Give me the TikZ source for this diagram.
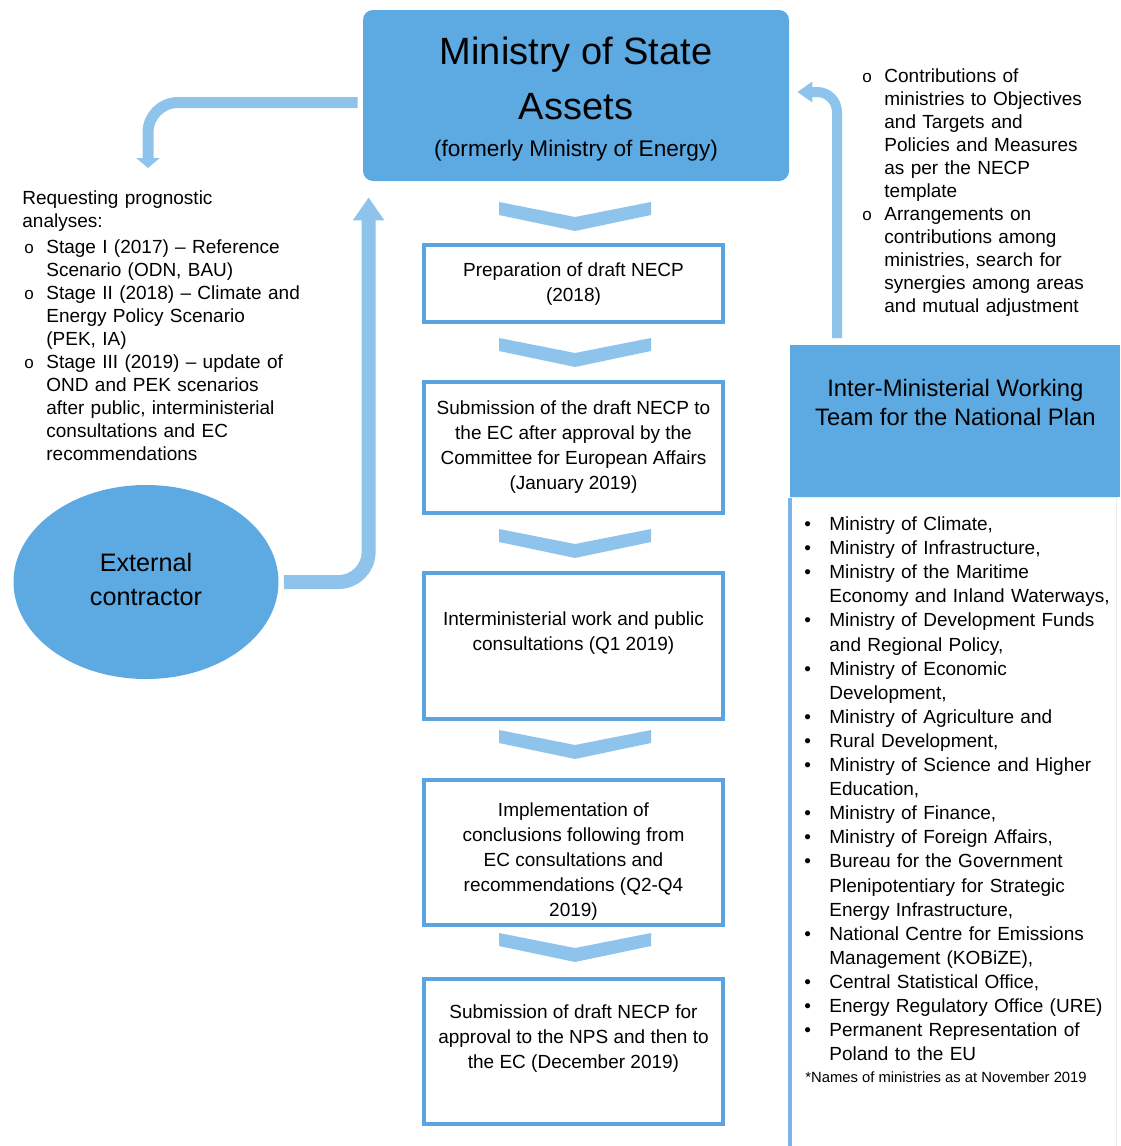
\documentclass[tikz,border=0pt]{standalone}
\usepackage{fontspec}
\setmainfont{Liberation Sans}
\usetikzlibrary{shapes.geometric,arrows.meta,positioning}
\definecolor{fillblue}{HTML}{5DA9E1}
\definecolor{arrowblue}{HTML}{8EC4EC}
\definecolor{lineblue}{HTML}{5CA4DF}

\newcommand{\ringitem}{\par\noindent\hangindent=12pt\hangafter=1\makebox[12pt][l]{\kern1pt\fontsize{8.5}{8.5}\selectfont o}}
\newcommand{\dotitem}{\par\noindent\hangindent=12.5pt\hangafter=1\makebox[12.5pt][l]{\textbullet}}

\tikzset{
  stepbox/.style={draw=lineblue, line width=2pt, minimum width=149.5pt, inner sep=0pt},
  steptext/.style={anchor=north, inner sep=0pt, align=center, font=\fontsize{9.5}{12.5}\selectfont},
  chev/.style={fill=arrowblue},
  flow/.style={draw=arrowblue, line width=7pt, rounded corners=15pt},
  listtext/.style={anchor=north west, inner sep=0pt, align=left, text width=150pt, font=\fontsize{9.5}{11.5}\selectfont},
}

\begin{document}
\begin{tikzpicture}[x=0.5pt, y=-0.5pt]
\useasboundingbox (0,0) rectangle (1120,1146);

\node[fill=fillblue, rounded corners=5pt, minimum width=213pt, minimum height=85.5pt, inner sep=0pt, align=center, font=\fontsize{19}{27.5}\selectfont] (msa) at (576,95.5) {\rule{0pt}{17pt}Ministry of State\\Assets\\[-9pt]{\fontsize{11.3}{13}\selectfont (formerly Ministry of Energy)}};

\node[stepbox, minimum height=38.5pt] (s1) at (573.5,283.5) {};
\node[stepbox, minimum height=65.5pt] (s2) at (573.5,447.5) {};
\node[stepbox, minimum height=73pt] (s3) at (573.5,646) {};
\node[stepbox, minimum height=72.5pt] (s4) at (573.5,852.5) {};
\node[stepbox, minimum height=72.5pt] (s5) at (573.5,1051.5) {};

\node[steptext] (t1) at ([yshift=-9.5pt]s1.north) {Preparation of draft NECP\\(2018)};
\node[steptext] (t2) at ([yshift=-10pt]s2.north) {Submission of the draft NECP to\\the EC after approval by the\\Committee for European Affairs\\(January 2019)};
\node[steptext] (t3) at ([yshift=-20pt]s3.north) {Interministerial work and public\\consultations (Q1 2019)};
\node[steptext] (t4) at ([yshift=-12pt]s4.north) {Implementation of\\conclusions following from\\EC consultations and\\recommendations (Q2-Q4\\2019)};
\node[steptext] (t5) at ([yshift=-13.5pt]s5.north) {Submission of draft NECP for\\approval to the NPS and then to\\the EC (December 2019)};

\foreach \cy in {202,338,529,730,933}
  \fill[chev] (499,\cy) -- (575,\cy+15) -- (651,\cy) -- (651,\cy+13) -- (575,\cy+29) -- (499,\cy+13) -- cycle;

\node[ellipse, fill=fillblue, minimum width=132.5pt, minimum height=97pt, inner sep=0pt, align=center, font=\fontsize{12.6}{17}\selectfont] (ext) at (146,582) {External\\contractor\rule[-3pt]{0pt}{0pt}};

\node[listtext] (req) at (22,190) {Requesting prognostic\newline analyses:\par\vspace{1.5pt}
\ringitem Stage I (2017) – Reference\newline Scenario (ODN, BAU)
\ringitem Stage II (2018) – Climate and\newline Energy Policy Scenario\newline (PEK, IA)
\ringitem Stage III (2019) – update of\newline OND and PEK scenarios\newline after public, interministerial\newline consultations and EC\newline recommendations\par};

\node[listtext, text width=128pt] (contrib) at (860,59) {\ringitem Contributions of\newline ministries to Objectives\newline and Targets and\newline Policies and Measures\newline as per the NECP\newline template
\ringitem Arrangements on\newline contributions among\newline ministries, search for\newline synergies among areas\newline and mutual adjustment\par};

\node[fill=fillblue, minimum width=165pt, minimum height=76pt, inner sep=0pt, anchor=north west] (iwt) at (790,345) {};
\node[anchor=north, inner sep=0pt, align=center, font=\fontsize{11.9}{14.5}\selectfont] (iwtt) at ([yshift=-17pt]iwt.north) {Inter-Ministerial Working\\Team for the National Plan};

\draw[draw=gray!15, line width=0.5pt] (iwt.south west) rectangle (1116,1160);
\draw[draw=lineblue!80!white, line width=2pt] (iwt.south west) -- (790,1146);

\node[listtext, text width=158pt, font=\fontsize{9.5}{12.05}\selectfont] (mlist) at (804,506) {\dotitem Ministry of Climate,
\dotitem Ministry of Infrastructure,
\dotitem Ministry of the Maritime\newline Economy and Inland Waterways,
\dotitem Ministry of Development Funds\newline and Regional Policy,
\dotitem Ministry of Economic\newline Development,
\dotitem Ministry of Agriculture and
\dotitem Rural Development,
\dotitem Ministry of Science and Higher\newline Education,
\dotitem Ministry of Finance,
\dotitem Ministry of Foreign Affairs,
\dotitem Bureau for the Government\newline Plenipotentiary for Strategic\newline Energy Infrastructure,
\dotitem National Centre for Emissions\newline Management (KOBiZE),
\dotitem Central Statistical Office,
\dotitem Energy Regulatory Office (URE)
\dotitem Permanent Representation of\newline Poland to the EU\par};
\node[anchor=north west, inner sep=0pt, font=\fontsize{7.4}{9}\selectfont] (fn) at (805,1071) {*Names of ministries as at November 2019};

\draw[flow, -{Triangle[width=15pt,length=11.5pt]}] ([xshift=2.5pt]ext.east) -| ([xshift=3pt,yshift=-8pt]msa.south west);
\draw[flow, line width=5.5pt, -{Triangle[width=11.5pt,length=5pt]}] ([xshift=-2.5pt,yshift=-3.5pt]msa.west) -| ([xshift=63pt,yshift=11pt]req.north west);
\draw[flow, line width=5pt, rounded corners=10pt, -{Triangle[width=10pt,length=7.5pt]}] ([xshift=23.5pt,yshift=3.5pt]iwt.north west) |- ([xshift=4pt,yshift=1.75pt]msa.east);
\end{tikzpicture}
\end{document}
